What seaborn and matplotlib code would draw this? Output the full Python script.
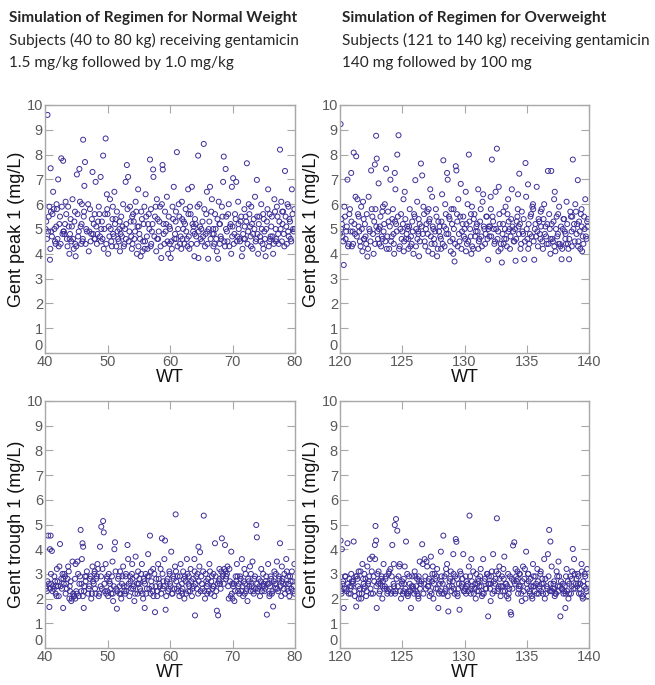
import matplotlib
matplotlib.use("Agg")
import matplotlib.pyplot as plt
import seaborn as sns
import pandas as pd

# ---------------- data: normal-weight subjects (40-80 kg) ----------------
WT_NORMAL = [
    40.2, 40.4, 40.5, 40.7, 40.8, 40.9, 41.1, 41.2, 41.3, 41.5, 41.7, 41.9,
    42.1, 42.2, 42.4, 42.6, 42.8, 42.9, 43.0, 43.2, 43.3, 43.5, 43.7, 43.9,
    44.1, 44.2, 44.4, 44.6, 44.8, 44.9, 45.1, 45.3, 45.5, 45.7, 45.8, 45.9,
    46.0, 46.1, 46.2, 46.3, 46.4, 46.7, 47.0, 47.2, 47.4, 47.6, 47.8, 47.9,
    48.1, 48.3, 48.5, 48.6, 48.8, 48.9, 49.0, 49.3, 49.4, 49.6, 49.7, 49.9,
    50.1, 50.2, 50.4, 50.6, 50.8, 50.9, 51.1, 51.2, 51.4, 51.5, 51.7, 51.9,
    52.0, 52.2, 52.3, 52.5, 52.7, 52.9, 53.1, 53.2, 53.3, 53.5, 53.7, 53.9,
    54.1, 54.3, 54.5, 54.7, 54.8, 54.9, 55.1, 55.3, 55.5, 55.7, 55.9, 55.95,
    56.1, 56.3, 56.5, 56.8, 56.9, 56.6, 57.1, 57.3, 57.35, 57.6, 57.8, 57.9,
    58.1, 58.3, 58.6, 58.7, 58.8, 58.85, 59.1, 59.2, 59.3, 59.5, 59.7, 59.9,
    60.1, 60.2, 60.4, 60.6, 60.8, 60.9, 61.1, 61.2, 61.5, 61.7, 61.9, 61.8,
    62.1, 62.3, 62.5, 62.7, 62.9, 62.4, 63.1, 63.3, 63.5, 63.7, 63.9, 63.6,
    64.0, 64.2, 64.5, 64.55, 64.7, 64.8, 65.1, 65.4, 65.5, 65.7, 65.9, 65.6,
    66.1, 66.3, 66.5, 66.7, 66.9, 66.4, 67.1, 67.2, 67.5, 67.7, 67.8, 67.9,
    68.1, 68.3, 68.5, 68.6, 68.8, 68.9, 69.0, 69.2, 69.4, 69.6, 69.8, 69.9,
    70.1, 70.3, 70.5, 70.7, 70.9, 70.6, 71.1, 71.3, 71.5, 71.7, 71.9, 71.6,
    72.1, 72.3, 72.4, 72.6, 72.8, 72.9, 73.0, 73.2, 73.4, 73.6, 73.8, 73.9,
    74.1, 74.2, 74.4, 74.6, 74.8, 74.9, 75.1, 75.3, 75.5, 75.7, 75.9, 75.6,
    76.1, 76.3, 76.5, 76.7, 76.9, 76.6, 77.1, 77.3, 77.5, 77.6, 77.8, 77.9,
    78.1, 78.3, 78.4, 78.6, 78.8, 78.9, 79.1, 79.3, 79.5, 79.7, 79.9, 79.8,
    40.1, 40.3, 40.6, 40.85, 40.95, 41.0, 41.4, 41.6, 41.8, 41.85,
    42.0, 42.3, 42.5, 42.7, 42.95, 43.1, 43.4, 43.6, 43.8, 43.95,
    44.0, 44.3, 44.5, 44.7, 44.85, 45.0, 45.2, 45.4, 45.6, 45.85,
    46.05, 46.25, 46.5, 46.6, 46.9, 47.1, 47.3, 47.5, 47.7, 47.95,
    48.0, 48.2, 48.4, 48.7, 48.95, 49.1, 49.2, 49.5, 49.8, 49.95,
    50.0, 50.3, 50.5, 50.7, 50.85, 51.0, 51.3, 51.6, 51.8, 51.95,
    52.1, 52.4, 52.6, 52.8, 52.95, 53.0, 53.4, 53.6, 53.8, 53.95,
    54.0, 54.2, 54.4, 54.6, 54.95, 55.0, 55.2, 55.4, 55.6, 55.8,
    56.0, 56.2, 56.4, 56.7, 56.95, 57.0, 57.2, 57.5, 57.7, 57.95,
    58.0, 58.2, 58.4, 58.5, 58.95, 59.0, 59.4, 59.6, 59.8, 59.95,
    60.0, 60.3, 60.5, 60.7, 60.95, 61.0, 61.3, 61.4, 61.6, 61.95,
    62.0, 62.2, 62.6, 62.8, 62.95, 63.0, 63.2, 63.4, 63.8, 63.95,
    64.1, 64.3, 64.4, 64.6, 64.9, 65.0, 65.2, 65.3, 65.8, 65.95,
    66.0, 66.2, 66.6, 66.8, 66.95, 67.0, 67.3, 67.4, 67.6, 67.95,
    68.0, 68.2, 68.4, 68.7, 68.95, 69.1, 69.3, 69.5, 69.7, 69.95,
    70.0, 70.2, 70.4, 70.8, 70.95, 71.0, 71.2, 71.4, 71.8, 71.95,
    72.0, 72.2, 72.5, 72.7, 72.95, 73.1, 73.3, 73.5, 73.7, 73.95,
    74.0, 74.3, 74.5, 74.7, 74.95, 75.0, 75.2, 75.4, 75.8, 75.95,
    76.0, 76.2, 76.4, 76.8, 76.95, 77.0, 77.2, 77.4, 77.7, 77.95,
    78.0, 78.2, 78.5, 78.7, 78.95, 79.0, 79.2, 79.4, 79.6, 79.95,
]
PEAK_NORMAL = [
    5.3, 9.6, 4.9, 5.9, 3.76, 7.45, 4.7, 5.6, 6.5, 5.0, 4.4, 5.8,
    7.0, 4.3, 5.5, 7.85, 4.8, 7.75, 4.9, 5.2, 6.1, 4.6, 5.9, 4.0,
    5.4, 4.5, 6.2, 4.2, 5.7, 3.9, 7.2, 4.7, 7.42, 5.1, 4.4, 6.0,
    4.5, 8.6, 5.5, 6.74, 7.7, 4.9, 4.1, 5.8, 4.8, 7.3, 5.2, 4.6,
    6.9, 4.4, 5.3, 5.9, 4.7, 7.1, 5.0, 7.96, 4.2, 5.6, 8.65, 6.4,
    4.0, 5.1, 6.2, 4.5, 5.4, 4.8, 6.5, 5.2, 4.3, 5.7, 4.6, 5.0,
    4.1, 5.5, 4.7, 6.0, 4.4, 6.9, 7.58, 5.8, 7.1, 4.9, 5.3, 4.2,
    5.6, 4.6, 6.1, 4.0, 5.1, 6.6, 4.8, 3.9, 5.4, 4.5, 5.9, 4.2,
    6.4, 4.7, 5.2, 7.8, 4.3, 5.6, 4.9, 7.4, 7.1, 5.5, 4.1, 6.2,
    4.6, 5.3, 3.83, 6.0, 7.58, 7.4, 4.4, 5.7, 4.9, 6.3, 4.0, 5.1,
    3.83, 4.5, 5.9, 6.7, 4.8, 5.3, 8.1, 4.3, 5.5, 4.7, 6.1, 4.2,
    5.0, 4.4, 5.8, 4.6, 6.6, 5.2, 4.2, 5.6, 6.7, 4.9, 3.9, 5.2,
    5.4, 4.7, 7.96, 3.83, 6.0, 5.1, 4.5, 8.43, 5.8, 4.8, 6.5, 4.3,
    3.8, 5.3, 4.6, 6.2, 5.0, 6.7, 4.4, 5.6, 4.1, 3.8, 6.1, 5.2,
    4.7, 5.9, 6.9, 7.92, 4.3, 7.42, 5.5, 4.5, 6.0, 5.1, 4.0, 6.7,
    7.05, 4.8, 5.4, 4.5, 6.1, 6.9, 4.6, 5.3, 3.9, 4.8, 5.8, 4.2,
    5.5, 7.65, 4.4, 6.0, 5.1, 4.7, 5.9, 4.2, 5.4, 6.3, 4.6, 6.98,
    4.0, 5.2, 4.7, 6.0, 4.4, 5.6, 4.9, 3.9, 5.3, 6.6, 4.5, 5.8,
    4.7, 5.5, 4.0, 6.2, 5.0, 4.4, 5.9, 4.8, 5.3, 8.2, 6.1, 4.5,
    5.7, 4.3, 7.34, 5.1, 6.0, 4.9, 5.4, 4.6, 6.6, 5.0, 5.8, 4.9,
    5.0, 4.6, 5.5, 4.2, 5.7, 4.9, 5.8, 4.5, 5.1, 6.0,
    4.6, 5.2, 4.4, 5.9, 4.9, 4.8, 5.6, 4.3, 5.1, 4.6,
    4.8, 5.1, 4.6, 5.3, 4.4, 4.3, 5.6, 4.9, 6.1, 5.2,
    4.6, 5.7, 4.4, 5.0, 6.0, 4.9, 4.5, 5.4, 4.8, 5.6,
    4.6, 5.1, 4.8, 5.6, 4.5, 5.3, 4.6, 5.0, 4.4, 5.8,
    5.6, 4.7, 5.0, 4.3, 5.9, 4.7, 5.4, 4.9, 4.5, 5.3,
    4.8, 5.1, 4.3, 5.0, 4.6, 5.2, 4.5, 5.9, 4.7, 5.5,
    4.4, 5.3, 4.9, 5.7, 4.3, 5.1, 4.6, 5.7, 4.1, 5.2,
    4.5, 5.5, 4.2, 5.0, 5.8, 4.4, 5.2, 4.7, 5.9, 4.6,
    5.4, 4.9, 5.9, 4.3, 5.2, 4.8, 5.2, 4.5, 5.5, 4.4,
    5.0, 4.2, 5.4, 4.6, 5.7, 4.6, 5.0, 6.0, 4.4, 5.4,
    4.6, 5.3, 4.9, 4.3, 5.6, 4.7, 5.9, 4.4, 5.1, 4.8,
    5.2, 4.4, 5.9, 4.9, 4.6, 5.0, 5.3, 4.7, 5.6, 4.9,
    4.4, 5.0, 5.7, 4.8, 4.3, 4.8, 5.0, 4.6, 5.4, 4.4,
    5.2, 4.6, 5.5, 4.5, 5.0, 4.9, 5.6, 4.3, 5.2, 4.7,
    5.1, 4.4, 5.6, 4.7, 5.2, 5.0, 4.5, 5.5, 4.6, 5.1,
    4.6, 5.3, 4.9, 5.6, 4.3, 5.2, 4.8, 5.0, 4.5, 5.5,
    4.8, 5.5, 4.5, 5.0, 4.2, 5.4, 4.6, 5.0, 4.3, 5.6,
    4.6, 5.1, 4.7, 5.7, 4.5, 4.6, 5.5, 4.4, 5.0, 5.7,
    5.2, 4.8, 5.5, 4.4, 5.9, 4.7, 5.3, 4.5, 5.6, 5.0,
]
TROUGH_NORMAL = [
    2.4, 2.7, 4.55, 1.66, 4.0, 4.55, 3.93, 2.3, 2.5, 2.9, 2.2, 3.2,
    2.5, 2.1, 4.21, 2.8, 3.0, 1.62, 2.6, 2.9, 2.2, 2.4, 3.3, 2.0,
    2.7, 1.9, 3.5, 2.1, 2.8, 3.4, 2.2, 3.0, 2.6, 4.78, 2.3, 3.6,
    4.24, 4.1, 1.62, 2.5, 2.9, 3.1, 2.4, 2.8, 2.0, 3.3, 2.6, 3.0,
    2.2, 2.9, 3.2, 2.1, 4.1, 2.5, 4.91, 5.14, 4.68, 2.3, 3.4, 2.8,
    2.1, 3.0, 2.6, 2.2, 3.5, 1.9, 4.0, 4.28, 2.4, 1.59, 2.8, 2.2,
    3.1, 2.0, 2.6, 3.3, 2.3, 2.9, 2.5, 4.17, 3.6, 2.1, 2.7, 3.0,
    2.4, 1.9, 3.7, 2.6, 2.2, 3.1, 2.8, 2.3, 3.4, 2.0, 2.7, 1.62,
    3.0, 2.4, 3.8, 4.55, 2.2, 2.9, 2.5, 3.2, 2.1, 1.45, 2.8, 2.3,
    3.4, 2.6, 2.2, 4.44, 3.0, 2.4, 3.6, 4.35, 1.55, 2.7, 2.3, 3.1,
    2.5, 3.9, 2.2, 2.8, 3.3, 5.41, 2.4, 2.9, 2.1, 3.4, 2.6, 2.3,
    3.1, 2.0, 2.7, 3.6, 2.3, 2.9, 2.5, 3.2, 2.1, 2.8, 3.6, 2.4,
    1.32, 2.9, 2.2, 4.1, 3.3, 3.88, 2.6, 5.36, 2.3, 3.0, 2.5, 2.0,
    2.8, 3.4, 2.2, 2.9, 2.5, 3.1, 2.1, 4.24, 1.51, 1.32, 2.7, 3.2,
    2.4, 4.44, 3.0, 2.6, 4.17, 3.1, 2.9, 3.3, 2.0, 2.7, 3.9, 2.2,
    2.5, 1.9, 2.9, 3.4, 2.3, 2.7, 2.2, 2.8, 3.6, 2.1, 3.2, 2.5,
    3.0, 2.4, 1.9, 2.7, 3.3, 2.3, 2.6, 3.5, 2.2, 2.9, 4.98, 4.48,
    2.4, 2.8, 2.1, 3.2, 2.5, 3.0, 2.3, 2.7, 1.35, 3.4, 2.1, 2.6,
    2.9, 2.2, 1.68, 3.1, 2.4, 2.7, 3.5, 2.3, 2.8, 4.24, 2.1, 3.3,
    2.6, 3.0, 2.2, 3.6, 2.4, 2.9, 2.1, 2.7, 3.1, 2.3, 3.4, 2.5,
    2.5, 2.3, 2.6, 2.4, 3.0, 2.6, 2.4, 2.7, 2.5, 2.1,
    2.7, 3.3, 2.5, 2.4, 2.8, 3.0, 2.6, 2.8, 3.1, 2.5,
    2.3, 2.0, 2.2, 2.1, 2.0, 2.3, 3.5, 2.1, 2.9, 2.6,
    2.1, 2.3, 2.7, 2.9, 2.2, 2.5, 2.9, 2.2, 2.7, 3.1,
    2.4, 2.8, 3.4, 2.2, 2.9, 2.4, 3.2, 2.6, 2.2, 2.9,
    2.3, 2.7, 2.4, 2.9, 2.2, 2.5, 3.1, 2.3, 2.9, 2.5,
    2.2, 2.9, 2.5, 2.2, 3.0, 2.3, 2.6, 2.9, 2.4, 3.4,
    2.8, 2.5, 2.2, 2.9, 2.6, 2.6, 2.4, 3.0, 2.2, 2.8,
    2.6, 2.2, 2.9, 2.4, 3.1, 2.7, 2.3, 3.0, 2.5, 2.1,
    2.3, 2.8, 2.5, 3.2, 2.7, 2.5, 2.1, 2.8, 2.4, 3.0,
    2.6, 2.2, 2.9, 2.4, 3.1, 2.7, 2.3, 2.5, 2.9, 2.2,
    2.4, 2.8, 2.2, 3.0, 2.6, 2.9, 2.3, 2.7, 2.5, 3.1,
    2.6, 2.4, 3.0, 2.7, 2.3, 2.9, 2.4, 3.1, 2.7, 2.2,
    2.6, 2.3, 2.7, 2.4, 3.0, 2.5, 2.9, 2.3, 2.6, 2.8,
    2.6, 3.1, 2.9, 3.2, 2.8, 3.0, 2.5, 3.2, 2.1, 2.6,
    2.0, 2.6, 2.3, 2.9, 2.5, 2.6, 2.9, 2.3, 2.7, 2.2,
    2.6, 2.3, 2.8, 2.5, 3.0, 2.5, 2.3, 2.8, 2.4, 2.6,
    2.3, 2.5, 2.7, 2.3, 2.6, 2.5, 2.4, 2.9, 2.6, 2.2,
    2.5, 2.8, 2.3, 2.6, 3.0, 2.6, 2.4, 2.9, 2.5, 2.7,
    2.8, 2.4, 2.6, 3.1, 2.3, 2.6, 2.9, 2.4, 2.7, 2.2,
]

# ---------------- data: overweight subjects (121-140 kg) ----------------
WT_OVER = [
    120.05, 120.1, 120.2, 120.3, 120.4, 120.6, 120.7, 120.8, 120.9, 120.5, 120.15, 120.95,
    121.1, 121.2, 121.3, 121.4, 121.5, 121.6, 121.7, 121.8, 121.9, 121.25, 121.55, 121.95,
    122.0, 122.1, 122.2, 122.3, 122.4, 122.5, 122.6, 122.7, 122.8, 122.9, 122.85, 122.95,
    123.05, 123.1, 123.2, 123.3, 123.4, 123.5, 123.6, 123.7, 123.8, 123.9, 123.75, 123.45,
    124.05, 124.1, 124.2, 124.3, 124.4, 124.45, 124.5, 124.6, 124.7, 124.8, 124.9, 124.35,
    125.0, 125.1, 125.3, 125.4, 125.5, 125.6, 125.7, 125.8, 125.9, 125.2, 125.45, 125.75,
    126.0, 126.1, 126.2, 126.3, 126.4, 126.5, 126.6, 126.7, 126.8, 126.9, 126.05, 126.35,
    127.0, 127.1, 127.2, 127.3, 127.4, 127.5, 127.6, 127.7, 127.8, 127.9, 127.25, 127.65,
    128.0, 128.1, 128.2, 128.3, 128.4, 128.5, 128.6, 128.65, 128.7, 128.8, 128.9, 128.45,
    129.0, 129.1, 129.2, 129.3, 129.35, 129.4, 129.5, 129.6, 129.7, 129.8, 129.9, 129.45,
    130.0, 130.1, 130.2, 130.35, 130.4, 130.5, 130.6, 130.7, 130.8, 130.9, 130.25, 130.55,
    131.0, 131.1, 131.2, 131.3, 131.4, 131.5, 131.6, 131.7, 131.8, 131.9, 131.95, 131.45,
    132.0, 132.1, 132.2, 132.3, 132.4, 132.5, 132.6, 132.7, 132.8, 132.9, 132.35, 132.75,
    133.0, 133.1, 133.2, 133.3, 133.4, 133.5, 133.6, 133.7, 133.75, 133.8, 133.9, 133.45,
    134.0, 134.1, 134.2, 134.3, 134.4, 134.5, 134.6, 134.7, 134.8, 134.9, 134.95, 134.35,
    135.0, 135.1, 135.2, 135.3, 135.4, 135.5, 135.6, 135.7, 135.8, 135.9, 135.45, 135.85,
    136.0, 136.1, 136.2, 136.3, 136.4, 136.5, 136.6, 136.7, 136.8, 136.9, 136.97, 136.45,
    137.0, 137.1, 137.2, 137.3, 137.4, 137.5, 137.6, 137.7, 137.8, 137.9, 137.25, 137.55,
    138.0, 138.1, 138.2, 138.3, 138.4, 138.5, 138.6, 138.7, 138.8, 138.9, 138.35, 138.65,
    139.0, 139.1, 139.2, 139.3, 139.4, 139.5, 139.6, 139.7, 139.8, 139.9, 139.85, 139.45,
    120.0, 120.12, 120.25, 120.35, 120.45, 120.55, 120.65, 120.75, 120.85, 120.92,
    121.05, 121.15, 121.35, 121.45, 121.65, 121.75, 121.85, 121.02, 121.5, 121.92,
    122.05, 122.15, 122.25, 122.35, 122.45, 122.55, 122.65, 122.75, 122.82, 122.92,
    123.0, 123.15, 123.25, 123.35, 123.55, 123.65, 123.85, 123.95, 123.12, 123.42,
    124.0, 124.15, 124.25, 124.32, 124.42, 124.55, 124.65, 124.75, 124.85, 124.95,
    125.05, 125.15, 125.25, 125.35, 125.55, 125.65, 125.85, 125.95, 125.12, 125.5,
    126.12, 126.22, 126.32, 126.42, 126.55, 126.65, 126.75, 126.85, 126.95, 126.28,
    127.05, 127.15, 127.35, 127.45, 127.55, 127.75, 127.85, 127.95, 127.12, 127.42,
    128.05, 128.15, 128.25, 128.35, 128.55, 128.75, 128.85, 128.95, 128.12, 128.52,
    129.05, 129.15, 129.25, 129.42, 129.55, 129.65, 129.75, 129.85, 129.95, 129.12,
    130.05, 130.15, 130.3, 130.45, 130.62, 130.75, 130.85, 130.95, 130.12, 130.52,
    131.05, 131.15, 131.25, 131.35, 131.55, 131.65, 131.75, 131.85, 131.92, 131.12,
    132.05, 132.15, 132.25, 132.45, 132.55, 132.65, 132.82, 132.92, 132.12, 132.72,
    133.05, 133.15, 133.25, 133.35, 133.55, 133.65, 133.85, 133.95, 133.12, 133.52,
    134.05, 134.15, 134.25, 134.38, 134.45, 134.55, 134.65, 134.75, 134.85, 134.28,
    135.05, 135.15, 135.25, 135.35, 135.55, 135.65, 135.75, 135.95, 135.12, 135.52,
    136.05, 136.15, 136.25, 136.35, 136.55, 136.65, 136.75, 136.85, 136.92, 136.12,
    137.05, 137.15, 137.22, 137.35, 137.45, 137.52, 137.65, 137.75, 137.85, 137.95,
    138.05, 138.15, 138.25, 138.42, 138.55, 138.62, 138.75, 138.85, 138.95, 138.12,
    139.05, 139.15, 139.25, 139.35, 139.55, 139.65, 139.75, 139.92, 139.12, 139.42,
]
PEAK_OVER = [
    9.23, 5.0, 4.7, 3.55, 5.5, 6.99, 4.4, 5.8, 7.26, 4.9, 5.2, 4.3,
    8.08, 4.8, 7.93, 6.2, 5.1, 4.5, 5.9, 4.1, 5.4, 6.3, 4.9, 4.6,
    5.2, 4.4, 3.89, 6.3, 4.9, 7.36, 5.5, 4.0, 7.6, 8.76, 5.8, 7.84,
    4.6, 6.84, 5.1, 4.3, 5.7, 4.9, 6.0, 7.43, 4.7, 5.3, 4.2, 5.9,
    6.99, 4.5, 5.4, 4.8, 7.26, 6.6, 5.2, 8.0, 8.78, 4.3, 5.6, 4.0,
    4.9, 6.2, 4.6, 5.1, 4.2, 5.8, 4.7, 5.3, 4.0, 6.5, 5.0, 4.4,
    5.5, 4.3, 6.1, 4.8, 5.2, 7.64, 7.16, 5.9, 4.5, 5.0, 6.97, 3.9,
    5.7, 4.1, 5.4, 4.7, 6.3, 5.0, 4.4, 5.8, 3.9, 5.3, 6.6, 4.9,
    5.1, 4.6, 6.4, 7.77, 4.3, 5.6, 7.26, 6.99, 4.8, 5.4, 4.1, 6.0,
    5.2, 4.0, 3.69, 7.53, 7.36, 5.6, 6.2, 4.5, 6.82, 4.9, 5.5, 4.3,
    5.0, 6.5, 4.4, 8.0, 5.3, 4.7, 5.9, 4.2, 5.6, 4.9, 6.0, 4.0,
    5.2, 6.6, 4.6, 5.8, 4.3, 6.4, 5.0, 4.8, 5.5, 3.76, 5.1, 6.1,
    4.7, 6.3, 7.8, 5.3, 4.4, 6.5, 8.24, 4.9, 5.6, 4.2, 5.0, 6.7,
    3.65, 5.2, 4.6, 5.9, 4.3, 6.2, 5.0, 4.7, 5.4, 6.6, 4.9, 5.6,
    4.5, 3.72, 5.3, 6.4, 7.23, 4.2, 5.7, 4.8, 3.78, 7.66, 6.3, 5.1,
    5.0, 6.8, 4.4, 5.5, 4.7, 6.0, 3.76, 5.2, 6.7, 4.3, 5.9, 4.9,
    5.3, 4.6, 5.8, 4.2, 6.0, 5.1, 4.4, 7.34, 5.6, 4.0, 7.34, 4.8,
    5.2, 4.5, 6.2, 4.1, 5.5, 4.8, 5.9, 4.3, 3.78, 5.0, 6.5, 4.4,
    5.4, 4.6, 6.1, 4.4, 3.78, 5.7, 4.9, 7.8, 5.2, 6.0, 4.2, 5.5,
    4.8, 6.97, 5.3, 4.2, 5.8, 4.7, 5.5, 6.2, 4.6, 5.1, 5.3, 4.1,
    4.8, 5.4, 4.5, 5.9, 4.6, 5.1, 4.3, 5.6, 4.9, 5.3,
    4.4, 5.2, 4.7, 5.6, 4.3, 5.0, 6.1, 4.9, 5.5, 4.6,
    4.7, 5.6, 4.2, 5.0, 4.5, 5.8, 4.8, 5.3, 4.4, 5.1,
    4.9, 4.4, 5.5, 4.7, 5.2, 4.5, 5.7, 4.2, 5.0, 4.6,
    5.1, 4.7, 5.8, 4.4, 5.3, 4.9, 5.5, 4.2, 5.0, 4.6,
    5.2, 4.5, 5.4, 4.8, 5.1, 4.3, 4.9, 5.6, 4.1, 4.6,
    5.0, 4.6, 5.4, 4.5, 5.1, 4.8, 5.6, 4.3, 5.2, 4.9,
    4.8, 5.3, 4.4, 5.1, 4.6, 5.5, 4.2, 4.9, 5.8, 4.0,
    4.7, 5.3, 4.4, 5.1, 4.8, 5.5, 4.5, 5.8, 4.2, 5.0,
    4.6, 5.0, 4.4, 5.3, 4.8, 5.5, 4.2, 5.2, 4.7, 5.8,
    4.6, 5.2, 4.5, 5.0, 4.3, 5.4, 4.7, 5.1, 4.1, 5.6,
    4.9, 4.5, 5.3, 4.7, 5.1, 4.4, 5.5, 4.6, 5.0, 4.2,
    5.1, 4.7, 5.5, 4.5, 5.0, 4.6, 5.2, 4.4, 5.8, 4.1,
    4.8, 4.4, 5.0, 4.6, 5.3, 4.2, 5.1, 4.5, 5.7, 4.9,
    5.0, 4.6, 5.5, 4.8, 5.2, 4.4, 4.9, 5.4, 4.5, 5.8,
    4.6, 5.2, 4.8, 5.6, 4.5, 5.0, 4.7, 5.4, 4.2, 5.8,
    4.8, 5.1, 4.5, 5.4, 4.7, 5.2, 4.4, 5.0, 4.6, 5.7,
    4.6, 5.3, 4.3, 5.0, 4.7, 5.6, 4.4, 5.1, 4.2, 5.4,
    4.9, 4.4, 5.2, 4.6, 5.5, 4.3, 5.0, 4.5, 5.7, 4.8,
    5.2, 4.5, 4.9, 5.6, 4.4, 5.0, 4.7, 5.4, 4.3, 5.1,
]
TROUGH_OVER = [
    4.35, 2.3, 2.6, 1.62, 2.9, 4.24, 2.2, 2.5, 3.0, 2.4, 4.0, 2.7,
    4.31, 2.1, 1.68, 2.8, 3.1, 2.4, 2.0, 3.4, 2.6, 2.9, 2.2, 3.0,
    2.5, 2.1, 3.3, 2.7, 3.6, 2.2, 3.7, 2.9, 4.17, 4.35, 4.94, 1.62,
    2.6, 3.1, 2.3, 2.8, 2.0, 3.4, 2.5, 2.9, 2.2, 3.0, 2.4, 2.7,
    3.2, 2.2, 4.17, 2.6, 4.98, 2.3, 5.22, 4.75, 2.9, 3.4, 2.0, 2.5,
    2.7, 2.3, 4.31, 3.0, 2.2, 2.6, 1.62, 2.9, 2.4, 3.3, 2.1, 2.5,
    3.1, 2.3, 2.8, 2.0, 3.5, 2.6, 4.2, 2.2, 3.6, 2.4, 2.9, 2.7,
    3.3, 2.5, 2.1, 3.7, 2.7, 2.0, 3.0, 2.4, 3.2, 1.62, 2.3, 2.8,
    2.6, 3.9, 2.2, 4.55, 2.9, 2.4, 3.4, 2.1, 1.48, 2.7, 3.1, 2.3,
    2.5, 3.8, 2.2, 4.41, 4.3, 2.8, 2.4, 1.55, 3.0, 2.6, 3.8, 2.1,
    2.3, 2.9, 2.5, 3.3, 5.36, 2.2, 2.7, 3.1, 2.4, 2.0, 2.6, 3.6,
    2.3, 2.8, 2.5, 3.2, 2.1, 3.6, 2.7, 2.4, 3.0, 1.28, 2.9, 2.2,
    2.6, 1.9, 3.1, 3.8, 2.3, 2.8, 5.25, 2.4, 3.3, 2.1, 2.7, 2.5,
    2.9, 2.3, 3.7, 2.6, 2.1, 3.0, 2.4, 1.45, 1.35, 2.8, 4.15, 2.5,
    4.28, 3.2, 2.7, 2.2, 3.0, 2.5, 1.9, 3.3, 2.8, 2.0, 3.9, 2.4,
    2.6, 3.0, 2.3, 2.8, 2.1, 3.4, 2.5, 2.9, 2.2, 2.7, 2.0, 3.2,
    2.4, 3.0, 2.6, 2.2, 3.6, 2.8, 2.5, 3.8, 4.78, 4.31, 2.3, 2.0,
    3.3, 2.4, 2.7, 2.2, 3.1, 2.5, 2.9, 1.28, 2.4, 2.6, 2.1, 3.5,
    2.3, 1.62, 3.2, 2.7, 2.2, 2.9, 2.5, 4.01, 3.6, 2.4, 2.0, 3.1,
    2.8, 3.0, 2.2, 2.6, 3.4, 2.0, 2.5, 2.9, 2.3, 2.6, 3.2, 2.1,
    2.5, 2.2, 2.7, 2.4, 2.9, 2.3, 2.6, 2.8, 2.2, 2.5,
    2.7, 2.3, 2.9, 2.5, 3.1, 2.2, 2.8, 2.6, 2.0, 2.4,
    2.8, 2.3, 2.6, 2.9, 2.4, 3.1, 2.2, 2.7, 3.6, 2.5,
    3.0, 2.2, 2.6, 2.9, 2.4, 2.8, 2.3, 3.1, 2.7, 2.5,
    2.4, 2.9, 2.3, 3.4, 2.2, 2.8, 2.5, 3.3, 2.3, 2.6,
    2.2, 2.6, 2.4, 2.2, 2.9, 2.3, 2.5, 2.2, 2.8, 2.3,
    2.5, 2.2, 2.9, 2.4, 2.7, 3.4, 2.6, 2.9, 3.5, 2.1,
    2.5, 2.8, 2.2, 3.3, 2.6, 2.9, 2.4, 2.2, 2.7, 3.0,
    2.3, 2.9, 2.6, 2.2, 3.0, 2.5, 2.8, 2.3, 2.7, 3.2,
    2.7, 2.4, 2.9, 2.2, 2.6, 3.1, 2.5, 2.8, 2.3, 3.0,
    2.4, 2.7, 2.3, 2.9, 2.5, 2.2, 2.6, 3.0, 2.2, 2.4,
    2.6, 2.3, 2.9, 2.5, 2.2, 2.8, 2.4, 3.0, 2.6, 2.7,
    2.4, 2.9, 2.2, 2.6, 3.1, 2.3, 2.8, 2.5, 2.6, 3.0,
    2.5, 2.8, 2.3, 2.6, 2.2, 2.9, 2.4, 2.7, 3.2, 2.0,
    2.6, 2.9, 3.1, 2.5, 3.0, 2.2, 2.7, 2.3, 3.2, 2.8,
    2.4, 2.7, 2.2, 2.5, 2.9, 2.3, 2.6, 2.2, 3.0, 2.5,
    2.5, 2.3, 2.8, 2.6, 2.2, 2.4, 2.9, 2.3, 2.6, 3.1,
    2.3, 2.6, 2.4, 2.2, 2.9, 2.3, 2.5, 2.7, 2.4, 2.2,
    2.5, 2.9, 2.3, 2.6, 2.2, 2.8, 2.4, 3.0, 2.6, 2.2,
    2.5, 2.9, 2.4, 2.2, 2.7, 3.0, 2.4, 2.1, 2.6, 3.1,
]

TITLES_LEFT = ["Simulation of Regimen for Normal Weight",
               "Subjects (40 to 80 kg) receiving gentamicin",
               "1.5 mg/kg followed by 1.0 mg/kg"]
TITLES_RIGHT = ["Simulation of Regimen for Overweight",
                "Subjects (121 to 140 kg) receiving gentamicin",
                "140 mg followed by 100 mg"]
X_TICKS_NORMAL = [40, 50, 60, 70, 80]
X_TICKS_OVER = [120, 125, 130, 135, 140]
Y_TICKS = list(range(0, 11))

# ---------------- styling ----------------
sns.set_theme(style="white")
plt.rcParams['font.family'] = ['Liberation Sans', 'DejaVu Sans']

MARK = "#3c2f98"
SPINE = "#a8a8a8"
TICKLAB = "#5a5a5a"

df_n = pd.DataFrame({"WT": WT_NORMAL, "peak": PEAK_NORMAL, "trough": TROUGH_NORMAL})
df_o = pd.DataFrame({"WT": WT_OVER, "peak": PEAK_OVER, "trough": TROUGH_OVER})

fig = plt.figure(figsize=(6.55, 6.85), dpi=100)
W, H = 655.0, 685.0

def add_axes(l, t, r, b):
    return fig.add_axes([l / W, 1 - b / H, (r - l) / W, (b - t) / H])

panels = [
    (add_axes(45, 105, 295, 353), df_n, "peak", X_TICKS_NORMAL, "Gent peak 1 (mg/L)"),
    (add_axes(340, 105, 589, 353), df_o, "peak", X_TICKS_OVER, "Gent peak 1 (mg/L)"),
    (add_axes(45, 401, 295, 648), df_n, "trough", X_TICKS_NORMAL, "Gent trough 1 (mg/L)"),
    (add_axes(340, 401, 589, 648), df_o, "trough", X_TICKS_OVER, "Gent trough 1 (mg/L)"),
]

for ax, df, col, xt, ylab in panels:
    sns.scatterplot(data=df, x="WT", y=col, ax=ax, marker="o", s=13,
                    facecolors="none", edgecolor=MARK, linewidth=0.7, legend=False)
    ax.set_xlim(xt[0], xt[-1])
    ax.set_ylim(0, 10)
    ax.set_xticks(xt)
    ax.set_yticks(Y_TICKS)
    ax.set_xticklabels([str(v) for v in xt])
    ax.set_yticklabels([str(v) for v in Y_TICKS])
    ax.tick_params(direction="in", length=6, width=0.8, color=SPINE,
                   top=True, right=True, bottom=True, left=True,
                   labelsize=10.5, labelcolor=TICKLAB, pad=1.5)
    ax.get_yticklabels()[0].set_verticalalignment("bottom")
    for sp in ax.spines.values():
        sp.set_color(SPINE)
        sp.set_linewidth(1.0)
    ax.set_xlabel("WT", fontsize=13, color="#111111", labelpad=0)
    ax.set_ylabel(ylab, fontsize=13, color="#111111", labelpad=1)
    ax.grid(False)

TFONT = ['Lato', 'DejaVu Sans']
for i, (tl, tr) in enumerate(zip(TITLES_LEFT, TITLES_RIGHT)):
    y = 1 - (18 + 22.5 * i) / H
    wt = "bold" if i == 0 else "normal"
    fig.text(9 / W, y, tl, fontsize=11.1, fontweight=wt, family=TFONT, va="center", ha="left")
    fig.text(342 / W, y, tr, fontsize=11.1, fontweight=wt, family=TFONT, va="center", ha="left")

fig.savefig("out.png", dpi=100, facecolor="white")
